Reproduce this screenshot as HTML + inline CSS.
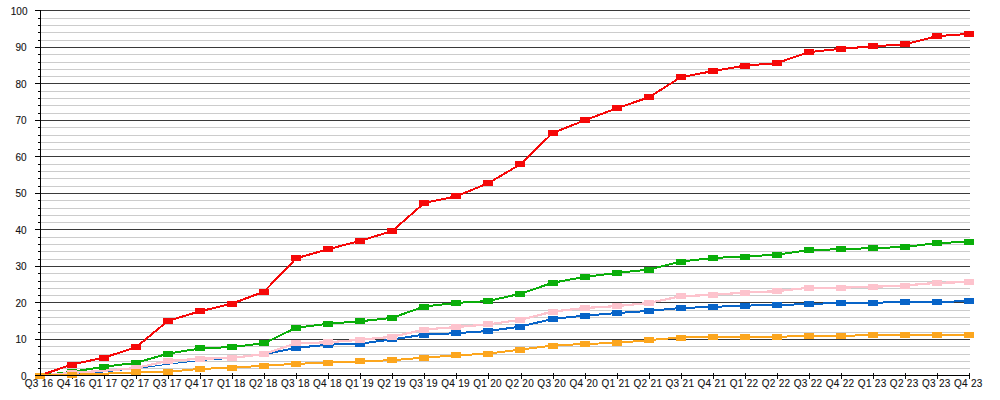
<!DOCTYPE html><html><head><meta charset="utf-8"><style>html,body{margin:0;padding:0;background:#fff;width:1000px;height:400px;overflow:hidden}svg{display:block}text{font-family:"Liberation Sans",Arial,sans-serif;fill:#111;stroke:#111;stroke-width:0.1px}</style></head><body>
<svg width="1000" height="400" viewBox="0 0 1000 400">
<rect width="1000" height="400" fill="#fff"/>
<path d="M41 368.5H970M41 361.5H970M41 354.5H970M41 346.5H970M41 332.5H970M41 324.5H970M41 317.5H970M41 310.5H970M41 295.5H970M41 288.5H970M41 281.5H970M41 273.5H970M41 259.5H970M41 251.5H970M41 244.5H970M41 237.5H970M41 222.5H970M41 215.5H970M41 208.5H970M41 200.5H970M41 186.5H970M41 178.5H970M41 171.5H970M41 164.5H970M41 149.5H970M41 142.5H970M41 135.5H970M41 127.5H970M41 113.5H970M41 105.5H970M41 98.5H970M41 91.5H970M41 76.5H970M41 69.5H970M41 62.5H970M41 54.5H970M41 40.5H970M41 32.5H970M41 25.5H970M41 18.5H970" stroke="#cccccc" stroke-width="1" shape-rendering="crispEdges"/>
<path d="M41 339.5H970M41 302.5H970M41 266.5H970M41 229.5H970M41 193.5H970M41 156.5H970M41 120.5H970M41 83.5H970M41 47.5H970M41 10.5H970" stroke="#3a3a3a" stroke-width="1" shape-rendering="crispEdges"/>
<path d="M38 368.5H41M38 361.5H41M38 354.5H41M38 346.5H41M35 339.5H41M38 332.5H41M38 324.5H41M38 317.5H41M38 310.5H41M35 302.5H41M38 295.5H41M38 288.5H41M38 281.5H41M38 273.5H41M35 266.5H41M38 259.5H41M38 251.5H41M38 244.5H41M38 237.5H41M35 229.5H41M38 222.5H41M38 215.5H41M38 208.5H41M38 200.5H41M35 193.5H41M38 186.5H41M38 178.5H41M38 171.5H41M38 164.5H41M35 156.5H41M38 149.5H41M38 142.5H41M38 135.5H41M38 127.5H41M35 120.5H41M38 113.5H41M38 105.5H41M38 98.5H41M38 91.5H41M35 83.5H41M38 76.5H41M38 69.5H41M38 62.5H41M38 54.5H41M35 47.5H41M38 40.5H41M38 32.5H41M38 25.5H41M38 18.5H41M35 10.5H41" stroke="#000" stroke-width="1" shape-rendering="crispEdges"/>
<path d="M72.5 373V379M104.5 373V379M136.5 373V379M168.5 373V379M200.5 373V379M232.5 373V379M264.5 373V379M296.5 373V379M328.5 373V379M360.5 373V379M392.5 373V379M424.5 373V379M456.5 373V379M488.5 373V379M521.5 373V379M553.5 373V379M585.5 373V379M617.5 373V379M649.5 373V379M681.5 373V379M713.5 373V379M745.5 373V379M777.5 373V379M809.5 373V379M841.5 373V379M873.5 373V379M905.5 373V379M937.5 373V379M969.5 373V379" stroke="#111" stroke-width="1" shape-rendering="crispEdges"/>
<text x="26.5" y="380.00" font-size="10" text-anchor="end">0</text>
<text x="26.5" y="343.00" font-size="10" text-anchor="end">10</text>
<text x="26.5" y="307.00" font-size="10" text-anchor="end">20</text>
<text x="26.5" y="270.00" font-size="10" text-anchor="end">30</text>
<text x="26.5" y="234.00" font-size="10" text-anchor="end">40</text>
<text x="26.5" y="197.00" font-size="10" text-anchor="end">50</text>
<text x="26.5" y="161.00" font-size="10" text-anchor="end">60</text>
<text x="26.5" y="124.00" font-size="10" text-anchor="end">70</text>
<text x="26.5" y="88.00" font-size="10" text-anchor="end">80</text>
<text x="26.5" y="51.00" font-size="10" text-anchor="end">90</text>
<text x="27.5" y="15.00" font-size="10" text-anchor="end">100</text>
<polyline points="39.8,375.5 71.8,364.6 103.9,357.6 135.9,347.4 168.0,320.8 200.0,311.3 232.1,303.6 264.1,291.6 296.2,258.3 328.2,249.2 360.3,240.8 392.3,231.0 424.3,202.9 456.4,196.3 488.4,183.1 520.5,164.2 552.5,133.1 584.6,120.4 616.6,108.3 648.7,97.4 680.7,77.3 712.7,71.1 744.8,65.6 776.8,63.1 808.9,52.1 840.9,48.8 873.0,46.3 905.0,44.3 937.1,36.1 969.1,33.9" fill="none" stroke="#f50808" stroke-width="2" stroke-linejoin="miter" shape-rendering="crispEdges"/>
<path d="M35 373h10v6h-10zM67 362h10v6h-10zM99 355h10v6h-10zM131 344h10v6h-10zM163 318h10v6h-10zM195 308h10v6h-10zM227 301h10v6h-10zM259 289h10v6h-10zM291 255h10v6h-10zM323 246h10v6h-10zM355 238h10v6h-10zM387 228h10v6h-10zM419 200h10v6h-10zM451 193h10v6h-10zM483 180h10v6h-10zM515 161h10v6h-10zM548 130h10v6h-10zM580 117h10v6h-10zM612 105h10v6h-10zM644 94h10v6h-10zM676 74h10v6h-10zM708 68h10v6h-10zM740 63h10v6h-10zM772 60h10v6h-10zM804 49h10v6h-10zM836 46h10v6h-10zM868 43h10v6h-10zM900 41h10v6h-10zM932 33h10v6h-10zM964 31h10v6h-10z" fill="#f50808" shape-rendering="crispEdges"/>
<polyline points="39.8,375.5 71.8,371.9 103.9,366.7 135.9,362.9 168.0,353.6 200.0,348.5 232.1,347.0 264.1,343.2 296.2,327.7 328.2,323.7 360.3,321.3 392.3,317.8 424.3,306.5 456.4,302.9 488.4,301.0 520.5,293.7 552.5,282.8 584.6,276.9 616.6,272.9 648.7,269.6 680.7,261.6 712.7,258.0 744.8,256.5 776.8,254.7 808.9,250.1 840.9,249.2 873.0,248.1 905.0,247.0 937.1,243.0 969.1,241.9" fill="none" stroke="#0aae0a" stroke-width="2" stroke-linejoin="miter" shape-rendering="crispEdges"/>
<path d="M35 373h10v6h-10zM67 369h10v6h-10zM99 364h10v6h-10zM131 360h10v6h-10zM163 351h10v6h-10zM195 345h10v6h-10zM227 344h10v6h-10zM259 340h10v6h-10zM291 325h10v6h-10zM323 321h10v6h-10zM355 318h10v6h-10zM387 315h10v6h-10zM419 304h10v6h-10zM451 300h10v6h-10zM483 298h10v6h-10zM515 291h10v6h-10zM548 280h10v6h-10zM580 274h10v6h-10zM612 270h10v6h-10zM644 267h10v6h-10zM676 259h10v6h-10zM708 255h10v6h-10zM740 254h10v6h-10zM772 252h10v6h-10zM804 247h10v6h-10zM836 246h10v6h-10zM868 245h10v6h-10zM900 244h10v6h-10zM932 240h10v6h-10zM964 239h10v6h-10z" fill="#0aae0a" shape-rendering="crispEdges"/>
<polyline points="39.8,375.5 71.8,374.4 103.9,371.9 135.9,368.6 168.0,364.2 200.0,360.5 232.1,358.3 264.1,354.3" fill="none" stroke="#0864c8" stroke-width="1" shape-rendering="crispEdges"/>
<polyline points="264.1,354.3 296.2,347.8 328.2,344.7 360.3,343.6 392.3,339.4 424.3,334.6 456.4,333.2 488.4,331.0 520.5,326.6 552.5,318.9 584.6,315.6 616.6,313.1 648.7,310.9 680.7,308.0 712.7,306.9 744.8,305.6 776.8,305.1 808.9,304.0 840.9,302.9 873.0,302.7 905.0,302.1 937.1,302.1 969.1,301.0" fill="none" stroke="#0864c8" stroke-width="2" stroke-linejoin="miter" shape-rendering="crispEdges"/>
<path d="M291 345h10v6h-10zM323 342h10v6h-10zM355 341h10v6h-10zM387 336h10v6h-10zM419 332h10v6h-10zM451 330h10v6h-10zM483 328h10v6h-10zM515 324h10v6h-10zM548 316h10v6h-10zM580 313h10v6h-10zM612 310h10v6h-10zM644 308h10v6h-10zM676 305h10v6h-10zM708 304h10v6h-10zM740 303h10v6h-10zM772 302h10v6h-10zM804 301h10v6h-10zM836 300h10v6h-10zM868 300h10v6h-10zM900 299h10v6h-10zM932 299h10v6h-10zM964 298h10v6h-10z" fill="#0864c8" shape-rendering="crispEdges"/>
<polyline points="39.8,375.5 71.8,372.9 103.9,370.8 135.9,368.0 168.0,360.9 200.0,358.7 232.1,358.0 264.1,354.0 296.2,343.4 328.2,342.3 360.3,339.7 392.3,336.8 424.3,329.5 456.4,327.0 488.4,324.4 520.5,319.8 552.5,311.6 584.6,308.0 616.6,306.1 648.7,302.9 680.7,296.3 712.7,294.8 744.8,292.6 776.8,291.2 808.9,287.7 840.9,287.7 873.0,286.8 905.0,285.5 937.1,282.8 969.1,282.1" fill="none" stroke="#fdc3cd" stroke-width="2.2" stroke-linejoin="miter" shape-rendering="crispEdges"/>
<path d="M35 373h10v6h-10zM67 370h10v6h-10zM131 365h10v6h-10zM163 358h10v6h-10zM195 356h10v6h-10zM227 355h10v6h-10zM259 351h10v6h-10zM291 340h10v6h-10zM323 339h10v6h-10zM355 337h10v6h-10zM387 334h10v6h-10zM419 327h10v6h-10zM451 324h10v6h-10zM483 321h10v6h-10zM515 317h10v6h-10zM548 309h10v6h-10zM580 305h10v6h-10zM612 303h10v6h-10zM644 300h10v6h-10zM676 293h10v6h-10zM708 292h10v6h-10zM740 290h10v6h-10zM772 288h10v6h-10zM804 285h10v6h-10zM836 285h10v6h-10zM868 284h10v6h-10zM900 283h10v6h-10zM932 280h10v6h-10zM964 279h10v6h-10z" fill="#fdc3cd" shape-rendering="crispEdges"/>
<polyline points="39.8,375.5 71.8,374.8 103.9,373.7 135.9,372.4 168.0,371.7 200.0,368.9 232.1,367.8 264.1,365.6 296.2,363.8 328.2,362.7 360.3,361.3 392.3,360.2 424.3,357.6 456.4,355.4 488.4,353.6 520.5,349.6 552.5,345.6 584.6,343.9 616.6,343.0 648.7,340.1 680.7,337.5 712.7,336.8 744.8,336.8 776.8,336.8 808.9,335.9 840.9,335.9 873.0,335.0 905.0,335.0 937.1,335.0 969.1,335.0" fill="none" stroke="#fca61e" stroke-width="2" stroke-linejoin="miter" shape-rendering="crispEdges"/>
<path d="M35 373h10v6h-10zM67 372h10v6h-10zM131 369h10v6h-10zM163 369h10v6h-10zM195 366h10v6h-10zM227 365h10v6h-10zM259 363h10v6h-10zM291 361h10v6h-10zM323 360h10v6h-10zM355 358h10v6h-10zM387 357h10v6h-10zM419 355h10v6h-10zM451 352h10v6h-10zM483 351h10v6h-10zM515 347h10v6h-10zM548 343h10v6h-10zM580 341h10v6h-10zM612 340h10v6h-10zM644 337h10v6h-10zM676 335h10v6h-10zM708 334h10v6h-10zM740 334h10v6h-10zM772 334h10v6h-10zM804 333h10v6h-10zM836 333h10v6h-10zM868 332h10v6h-10zM900 332h10v6h-10zM932 332h10v6h-10zM964 332h10v6h-10z" fill="#fca61e" shape-rendering="crispEdges"/>
<path d="M40.5 10V376M35 375.5H970" stroke="#000" stroke-width="1" shape-rendering="crispEdges"/>
<text x="39.0" y="386.7" font-size="10" letter-spacing="0.3" text-anchor="middle">Q3 16</text>
<text x="71.0" y="386.7" font-size="10" letter-spacing="0.3" text-anchor="middle">Q4 16</text>
<text x="103.1" y="386.7" font-size="10" letter-spacing="0.3" text-anchor="middle">Q1 17</text>
<text x="135.1" y="386.7" font-size="10" letter-spacing="0.3" text-anchor="middle">Q2 17</text>
<text x="167.2" y="386.7" font-size="10" letter-spacing="0.3" text-anchor="middle">Q3 17</text>
<text x="199.2" y="386.7" font-size="10" letter-spacing="0.3" text-anchor="middle">Q4 17</text>
<text x="231.3" y="386.7" font-size="10" letter-spacing="0.3" text-anchor="middle">Q1 18</text>
<text x="263.3" y="386.7" font-size="10" letter-spacing="0.3" text-anchor="middle">Q2 18</text>
<text x="295.4" y="386.7" font-size="10" letter-spacing="0.3" text-anchor="middle">Q3 18</text>
<text x="327.4" y="386.7" font-size="10" letter-spacing="0.3" text-anchor="middle">Q4 18</text>
<text x="359.5" y="386.7" font-size="10" letter-spacing="0.3" text-anchor="middle">Q1 19</text>
<text x="391.5" y="386.7" font-size="10" letter-spacing="0.3" text-anchor="middle">Q2 19</text>
<text x="423.5" y="386.7" font-size="10" letter-spacing="0.3" text-anchor="middle">Q3 19</text>
<text x="455.6" y="386.7" font-size="10" letter-spacing="0.3" text-anchor="middle">Q4 19</text>
<text x="487.6" y="386.7" font-size="10" letter-spacing="0.3" text-anchor="middle">Q1 20</text>
<text x="519.7" y="386.7" font-size="10" letter-spacing="0.3" text-anchor="middle">Q2 20</text>
<text x="551.7" y="386.7" font-size="10" letter-spacing="0.3" text-anchor="middle">Q3 20</text>
<text x="583.8" y="386.7" font-size="10" letter-spacing="0.3" text-anchor="middle">Q4 20</text>
<text x="615.8" y="386.7" font-size="10" letter-spacing="0.3" text-anchor="middle">Q1 21</text>
<text x="647.9" y="386.7" font-size="10" letter-spacing="0.3" text-anchor="middle">Q2 21</text>
<text x="679.9" y="386.7" font-size="10" letter-spacing="0.3" text-anchor="middle">Q3 21</text>
<text x="711.9" y="386.7" font-size="10" letter-spacing="0.3" text-anchor="middle">Q4 21</text>
<text x="744.0" y="386.7" font-size="10" letter-spacing="0.3" text-anchor="middle">Q1 22</text>
<text x="776.0" y="386.7" font-size="10" letter-spacing="0.3" text-anchor="middle">Q2 22</text>
<text x="808.1" y="386.7" font-size="10" letter-spacing="0.3" text-anchor="middle">Q3 22</text>
<text x="840.1" y="386.7" font-size="10" letter-spacing="0.3" text-anchor="middle">Q4 22</text>
<text x="872.2" y="386.7" font-size="10" letter-spacing="0.3" text-anchor="middle">Q1 23</text>
<text x="904.2" y="386.7" font-size="10" letter-spacing="0.3" text-anchor="middle">Q2 23</text>
<text x="936.3" y="386.7" font-size="10" letter-spacing="0.3" text-anchor="middle">Q3 23</text>
<text x="968.3" y="386.7" font-size="10" letter-spacing="0.3" text-anchor="middle">Q4 23</text>
</svg></body></html>
